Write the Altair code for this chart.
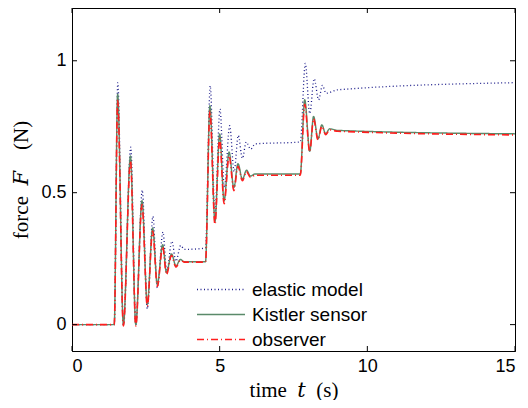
import altair as alt
import pandas as pd

# --- data ---
series_names = ["elastic model", "Kistler sensor", "observer"]

t_elastic = [0, 1.43, 1.55, 1.74, 1.99, 2.16, 2.38, 2.55, 2.74, 2.89, 3.08, 3.21, 3.38, 3.52,
             3.68, 3.8, 4.52, 4.68, 4.84, 5.01, 5.16, 5.34, 5.49, 5.63, 5.77, 5.9, 6.05, 6.2,
             7.73, 7.9, 8.05, 8.2, 8.35, 8.48, 8.6, 9.0, 15]
f_elastic = [0, 0, 0.917, 0.0, 0.673, 0.0, 0.51, 0.06, 0.41, 0.14, 0.351, 0.2, 0.316, 0.24,
             0.30, 0.285, 0.29, 0.905, 0.42, 0.817, 0.52, 0.754, 0.58, 0.717, 0.63, 0.692, 0.665, 0.685,
             0.692, 0.99, 0.80, 0.932, 0.852, 0.907, 0.877, 0.89, 0.917]

t_kistler = [0, 1.43, 1.545, 1.74, 1.98, 2.16, 2.37, 2.55, 2.73, 2.89, 3.07, 3.2, 3.37, 3.52,
             3.67, 3.8, 4.52, 4.67, 4.84, 5.0, 5.15, 5.32, 5.48, 5.62, 5.77, 5.91, 6.04, 6.2,
             7.73, 7.88, 8.05, 8.18, 8.33, 8.46, 8.59, 8.72, 9.0, 15]
f_kistler = [0, 0, 0.873, 0.0, 0.639, 0.0, 0.470, 0.078, 0.366, 0.153, 0.303, 0.197, 0.268, 0.222,
             0.247, 0.238, 0.238, 0.83, 0.391, 0.723, 0.469, 0.654, 0.519, 0.610, 0.551, 0.585, 0.563, 0.571,
             0.571, 0.852, 0.657, 0.789, 0.704, 0.757, 0.723, 0.742, 0.736, 0.723]

t_observer = [0, 1.43, 1.545, 1.74, 1.98, 2.16, 2.37, 2.55, 2.73, 2.89, 3.07, 3.2, 3.37, 3.52,
              3.67, 3.8, 4.52, 4.67, 4.84, 5.0, 5.15, 5.32, 5.48, 5.62, 5.77, 5.91, 6.04, 6.2,
              7.73, 7.88, 8.05, 8.18, 8.33, 8.46, 8.59, 8.72, 9.0, 15]
f_observer = [0, 0, 0.85, -0.005, 0.62, -0.005, 0.455, 0.07, 0.355, 0.145, 0.295, 0.19, 0.262, 0.218,
              0.244, 0.237, 0.237, 0.81, 0.38, 0.705, 0.458, 0.64, 0.508, 0.600, 0.545, 0.58, 0.558, 0.566,
              0.566, 0.835, 0.655, 0.78, 0.70, 0.752, 0.72, 0.738, 0.733, 0.719]

x_ticks = [0, 5, 10, 15]
y_ticks = [0, 0.5, 1]

colors = ["#1c1c8a", "#5a8a6a", "#ff1e1e"]
dashes = [[1, 2.5], [1, 0], [7, 3, 1, 3]]
widths = [1.3, 1.6, 1.5]

rows = []
for name, ts, fs in zip(series_names, [t_elastic, t_kistler, t_observer],
                        [f_elastic, f_kistler, f_observer]):
    for i, (t, f) in enumerate(zip(ts, fs)):
        rows.append({"series": name, "t": t, "F": f, "idx": i})
df = pd.DataFrame(rows)

W, H = 443, 343
xscale = alt.Scale(domain=[0, 15], nice=False, zero=False)
yscale = alt.Scale(domain=[-0.1, 1.2], nice=False, zero=False)

lines = alt.Chart(df).mark_line(interpolate="monotone", clip=True).encode(
    x=alt.X("t:Q", scale=xscale,
            axis=alt.Axis(values=x_ticks, format="~g", title="time\u2002\U0001D461\u2002(s)", tickSize=0,
                          labelPadding=6, titlePadding=4, grid=False)),
    y=alt.Y("F:Q", scale=yscale,
            axis=alt.Axis(values=y_ticks, format="~g", title="force\u2002\U0001D439\u2003(N)", tickSize=0,
                          labelPadding=6, titlePadding=9, grid=False)),
    color=alt.Color("series:N", scale=alt.Scale(domain=series_names, range=colors),
                    title=None, sort=series_names),
    strokeDash=alt.StrokeDash("series:N", scale=alt.Scale(domain=series_names, range=dashes),
                              title=None, sort=series_names),
    strokeWidth=alt.StrokeWidth("series:N", scale=alt.Scale(domain=series_names, range=widths),
                                title=None, sort=series_names),
    order="idx:Q",
)

xt = pd.DataFrame({"v": x_ticks})
yt = pd.DataFrame({"v": y_ticks})
tick_bottom = alt.Chart(xt).mark_rule(color="#000", strokeWidth=1).encode(
    x=alt.X("v:Q", scale=xscale), y=alt.value(H), y2=alt.value(H - 5))
tick_top = alt.Chart(xt).mark_rule(color="#000", strokeWidth=1).encode(
    x=alt.X("v:Q", scale=xscale), y=alt.value(0), y2=alt.value(5))
tick_left = alt.Chart(yt).mark_rule(color="#000", strokeWidth=1).encode(
    y=alt.Y("v:Q", scale=yscale), x=alt.value(0), x2=alt.value(5))
tick_right = alt.Chart(yt).mark_rule(color="#000", strokeWidth=1).encode(
    y=alt.Y("v:Q", scale=yscale), x=alt.value(W), x2=alt.value(W - 5))

chart = alt.layer(lines, tick_bottom, tick_top, tick_left, tick_right).properties(
    width=W, height=H,
    autosize=alt.AutoSizeParams(type="none"),
    padding={"left": 64, "top": 0, "right": 5, "bottom": 49},
).configure_view(
    stroke="#000", strokeWidth=1
).configure_axis(
    domainColor="#000", domainWidth=1,
    labelFont="Liberation Sans", labelFontSize=18, labelColor="#000",
    titleFont="Liberation Serif, DejaVu Serif", titleFontSize=21, titleFontWeight="normal",
    titleColor="#000",
).configure_legend(
    orient="none", legendX=124, legendY=270, padding=0,
    symbolType="stroke", symbolSize=2304, labelFont="Liberation Sans", labelFontSize=19,
    labelColor="#000", labelOffset=6, rowPadding=2, clipHeight=23,
)

chart.save("out.html", embed_options={"renderer": "svg", "actions": False})
